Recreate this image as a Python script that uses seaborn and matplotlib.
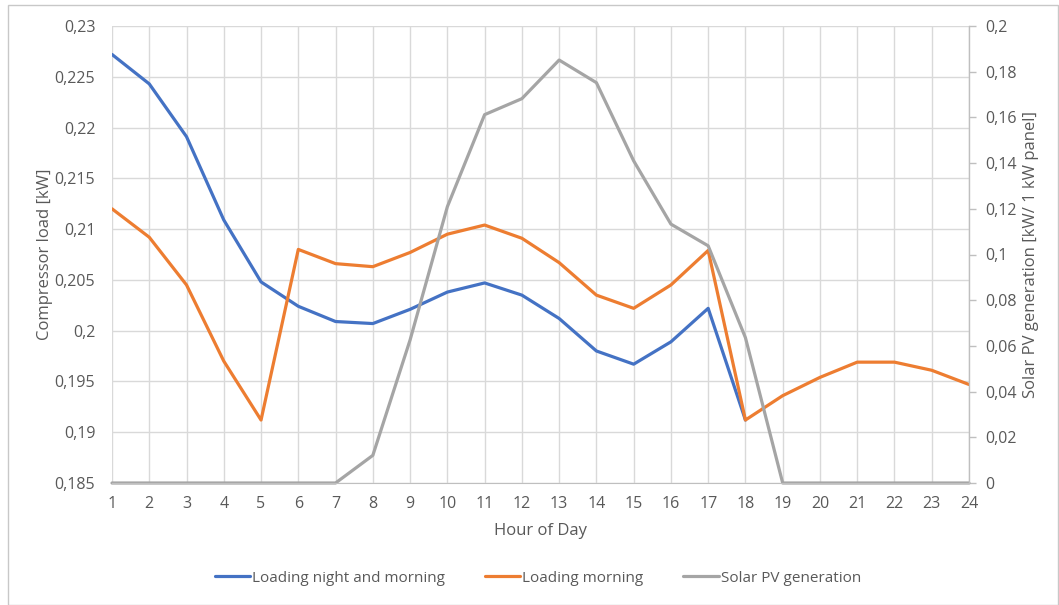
import numpy as np
import pandas as pd
import matplotlib
matplotlib.use("Agg")
import matplotlib.pyplot as plt
from matplotlib.ticker import FuncFormatter, MultipleLocator
from matplotlib.patches import Rectangle
import seaborn as sns

# Hourly data
hours = list(range(1, 25))
night_and_morning = [0.2272, 0.2243, 0.2191, 0.2109, 0.2048, 0.2024, 0.2009, 0.2007,
                     0.2021, 0.2038, 0.2047, 0.2035, 0.2012, 0.1980, 0.1967, 0.1989,
                     0.2022, 0.1912] + [np.nan] * 6
morning = [0.2120, 0.2092, 0.2045, 0.1970, 0.1912, 0.2080, 0.2066, 0.2063,
           0.2077, 0.2095, 0.2104, 0.2091, 0.2067, 0.2035, 0.2022, 0.2045,
           0.2079, 0.1912, 0.1936, 0.1954, 0.1969, 0.1969, 0.1961, 0.1947]
solar_pv = [0, 0, 0, 0, 0, 0, 0, 0.0121, 0.0626, 0.1209, 0.1612, 0.1682,
            0.1851, 0.1752, 0.1410, 0.1133, 0.1038, 0.0636, 0, 0, 0, 0, 0, 0]

labels = ["Loading night and morning", "Loading morning", "Solar PV generation"]
colors = ["#4472C4", "#ED7D31", "#A5A5A5"]

sns.set_style("white")
plt.rcParams["font.family"] = ["Open Sans", "DejaVu Sans"]
text_color = "#595959"
grid_color = "#D9D9D9"

df = pd.DataFrame({"hour": hours, "nm": night_and_morning, "m": morning, "pv": solar_pv})

fig = plt.figure(figsize=(10.59, 6.05), dpi=100)
ax = fig.add_axes([112 / 1059, 1 - 483 / 605, (969 - 112) / 1059, (483 - 26) / 605])

# Outer chart frame
fig.patches.append(Rectangle((8 / 1059, 0.0), 1 - 8 / 1059 - 0.001, 1 - 5 / 605,
                             transform=fig.transFigure, fill=False,
                             edgecolor="#C8C8C8", linewidth=1.0))

sns.lineplot(data=df, x="hour", y="nm", ax=ax, color=colors[0], linewidth=2.3, label=labels[0], legend=False)
sns.lineplot(data=df, x="hour", y="m", ax=ax, color=colors[1], linewidth=2.3, label=labels[1], legend=False)

ax2 = ax.twinx()
sns.lineplot(data=df, x="hour", y="pv", ax=ax2, color=colors[2], linewidth=2.3, label=labels[2], legend=False)
for ln in ax2.lines:
    ln.set_clip_on(False)

ax.set_xlim(1, 24)
ax.set_ylim(0.185, 0.23)
ax2.set_ylim(0, 0.2)
ax.set_xticks(hours)
ax.yaxis.set_major_locator(MultipleLocator(0.005))
ax2.yaxis.set_major_locator(MultipleLocator(0.02))

def comma_fmt(v, pos):
    return "{:g}".format(round(v, 4)).replace(".", ",")

ax.yaxis.set_major_formatter(FuncFormatter(comma_fmt))
ax2.yaxis.set_major_formatter(FuncFormatter(comma_fmt))

ax.grid(True, color=grid_color, linewidth=1.0)
ax.set_axisbelow(True)

for a in (ax, ax2):
    for s in a.spines.values():
        s.set_visible(False)
ax2.spines["bottom"].set_visible(True)
ax2.spines["bottom"].set_color("#BFBFBF")
ax2.spines["right"].set_visible(True)
ax2.spines["right"].set_color("#BFBFBF")
ax2.spines["right"].set_linewidth(1.0)

ax.tick_params(axis="both", length=0, labelsize=11.5, colors=text_color, pad=12)
ax.tick_params(axis="x", pad=9)
ax2.tick_params(axis="y", length=5, width=1, color="#BFBFBF", labelsize=11.5,
                labelcolor=text_color, pad=7)

ax.set_xlabel("Hour of Day", fontsize=12, color=text_color, va="center")
ax.set_ylabel("Compressor load [kW]", fontsize=12, color=text_color, va="center")
ax2.set_ylabel("Solar PV generation [kW/ 1 kW panel]", fontsize=12, color=text_color, va="center")
ax.xaxis.set_label_coords(0.5, (483 - 531) / 457)
ax.yaxis.set_label_coords((45 - 112) / 857, 0.5)
ax2.yaxis.set_label_coords((1031 - 112) / 857, 0.5)

handles = ax.get_lines()[:2] + ax2.get_lines()[:1]
fig.legend(handles, labels, loc="center", bbox_to_anchor=(0.508, 1 - 578 / 605), ncol=3,
           frameon=False, fontsize=11, handlelength=2.3, columnspacing=2.6,
           labelcolor=text_color, handletextpad=0.15)

fig.savefig("out.png", dpi=100)
